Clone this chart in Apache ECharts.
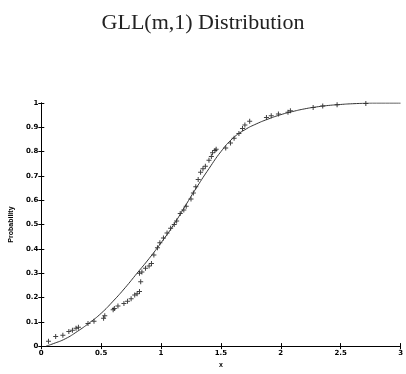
<!DOCTYPE html>
<html>
<head>
<meta charset="utf-8">
<script src="https://cdn.jsdelivr.net/npm/echarts@6/dist/echarts.min.js"></script>
<style>
  html, body { margin: 0; padding: 0; background: #fff; }
  #chart { width: 406px; height: 374px; }
</style>
</head>
<body>
<div id="chart"></div>
<script>
// fitted CDF curve
const curveX = [0.04, 0.1, 0.2, 0.3, 0.4, 0.5, 0.6, 0.7, 0.8, 0.9, 1.0, 1.1, 1.2, 1.3, 1.4, 1.5, 1.6, 1.7, 1.8, 1.9, 2.0, 2.1, 2.2, 2.3, 2.4, 2.5, 2.6, 2.8, 3.0]
const curveY = [0.0, 0.01, 0.03, 0.06, 0.095, 0.135, 0.185, 0.24, 0.3, 0.36, 0.425, 0.495, 0.575, 0.655, 0.73, 0.8, 0.855, 0.89, 0.915, 0.935, 0.952, 0.965, 0.976, 0.984, 0.99, 0.994, 0.997, 1.0, 1.0]

// empirical points (+ markers)
const obsX = [0.06, 0.12, 0.18, 0.23, 0.26, 0.29, 0.31, 0.39, 0.44, 0.52, 0.53, 0.6, 0.61, 0.64, 0.69, 0.72, 0.75, 0.78, 0.8, 0.82, 0.83, 0.82, 0.84, 0.87, 0.9, 0.92,
  0.94, 0.97, 0.99, 1.02, 1.05, 1.08, 1.11, 1.13, 1.16, 1.19, 1.21, 1.25, 1.27, 1.29, 1.31, 1.33, 1.35, 1.37, 1.4, 1.42, 1.43, 1.45, 1.46,
  1.54, 1.58, 1.61, 1.65, 1.68, 1.7, 1.74, 1.88, 1.92, 1.98, 2.06, 2.08, 2.27, 2.35, 2.47, 2.71]
const obsY = [0.02, 0.04, 0.045, 0.06, 0.065, 0.073, 0.078, 0.093, 0.102, 0.115, 0.125, 0.15, 0.155, 0.165, 0.175, 0.185, 0.195, 0.21, 0.215, 0.225, 0.265, 0.3, 0.305, 0.32, 0.33, 0.34,
  0.375, 0.405, 0.425, 0.445, 0.465, 0.485, 0.5, 0.515, 0.545, 0.56, 0.575, 0.605, 0.63, 0.655, 0.685, 0.715, 0.73, 0.74, 0.765, 0.78, 0.795, 0.805, 0.81,
  0.815, 0.835, 0.855, 0.875, 0.895, 0.91, 0.925, 0.94, 0.948, 0.955, 0.962, 0.968, 0.982, 0.988, 0.993, 0.998]

const xTicks = [0, 0.5, 1, 1.5, 2, 2.5, 3]

const myChart = echarts.init(document.getElementById('chart'))

const tickLbl = { fontSize: 7, color: '#000', fontFamily: 'DejaVu Sans', fontWeight: 'bold' }

const option = {
  animation: false,
  title: {
    text: 'GLL(m,1) Distribution',
    left: 'center',
    top: 7,
    textStyle: { fontFamily: 'Liberation Serif', fontWeight: 'normal', fontSize: 22, color: '#222' }
  },
  grid: { left: 35, right: 5, top: 103, bottom: 18 },
  xAxis: [{
    type: 'value',
    min: 0, max: 3, interval: 0.5,
    name: 'x',
    nameLocation: 'middle',
    nameGap: 15,
    nameTextStyle: { fontSize: 7, color: '#000', fontWeight: 'bold' },
    axisLine: { show: true, lineStyle: { color: '#000', width: 1 } },
    axisTick: { show: true, inside: true, length: 3, lineStyle: { color: '#000' } },
    axisLabel: Object.assign({ margin: 4, formatter: v => xTicks.includes(v) ? String(v) : '' }, tickLbl),
    splitLine: { show: false }
  }, {
    type: 'value', position: 'top', min: 0, max: 3, interval: 0.5,
    axisLine: { show: true, lineStyle: { color: '#000' } },
    axisTick: { show: true, inside: true, length: 3, lineStyle: { color: '#000' } },
    axisLabel: { show: false },
    splitLine: { show: false }
  }],
  yAxis: [{
    type: 'value',
    min: 0, max: 1, interval: 0.1,
    name: 'Probability',
    nameLocation: 'middle',
    nameGap: 18,
    nameTextStyle: { fontSize: 7, color: '#000', fontWeight: 'bold' },
    axisLine: { show: true, lineStyle: { color: '#000', width: 1 } },
    axisTick: { show: true, inside: true, length: 3, lineStyle: { color: '#000' } },
    axisLabel: Object.assign({ margin: 3, formatter: v => String(Math.round(v * 10) / 10) }, tickLbl),
    splitLine: { show: false }
  }, {
    type: 'value', position: 'right', min: 0, max: 1, interval: 0.1,
    axisLine: { show: true, lineStyle: { color: '#000' } },
    axisTick: { show: true, inside: true, length: 3, lineStyle: { color: '#000' } },
    axisLabel: { show: false },
    splitLine: { show: false }
  }],
  series: [
    {
      type: 'line',
      data: curveX.map((x, i) => [x, curveY[i]]),
      smooth: true,
      showSymbol: false,
      lineStyle: { color: '#333', width: 1 }
    },
    {
      type: 'scatter',
      data: obsX.map((x, i) => [x, obsY[i]]),
      symbol: 'path://M4,0H6V4H10V6H6V10H4V6H0V4H4Z',
      symbolSize: 5,
      itemStyle: { color: '#111' }
    }
  ]
}
myChart.setOption(option)
</script>
</body>
</html>
